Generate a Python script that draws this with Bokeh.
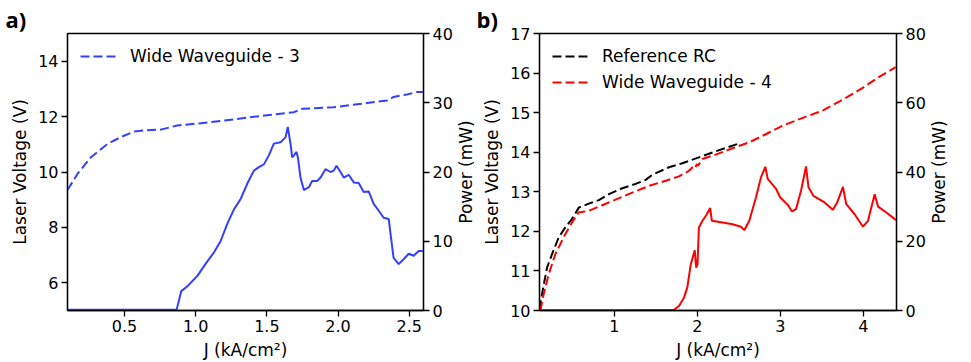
import math
from bokeh.plotting import figure
from bokeh.models import Range1d, LinearAxis, FixedTicker, Legend, LegendItem, NumeralTickFormatter
from bokeh.core.properties import value
from bokeh.layouts import row
from bokeh.embed import file_html
from bokeh.resources import INLINE

# ---------------- Panel a data ----------------
a_v_j = [0.10, 0.17, 0.264, 0.38, 0.474, 0.567, 0.638, 0.755, 0.871, 1.035, 1.269, 1.50, 1.69,
         1.748, 1.97, 2.204, 2.344, 2.39, 2.484, 2.554, 2.596]
a_v = [9.35, 9.93, 10.53, 11.01, 11.26, 11.46, 11.50, 11.53, 11.68, 11.76, 11.90, 12.05, 12.16,
       12.28, 12.34, 12.49, 12.58, 12.71, 12.80, 12.89, 12.89]

a_p_j = [0.10, 0.50, 0.867, 0.878, 0.899, 0.942, 1.012, 1.082, 1.129, 1.175, 1.222, 1.269, 1.316,
         1.362, 1.409, 1.444, 1.479, 1.514, 1.549, 1.596, 1.631, 1.647, 1.666, 1.678, 1.69, 1.708,
         1.718, 1.736, 1.76, 1.795, 1.818, 1.853, 1.877, 1.912, 1.947, 1.97, 1.989, 2.017, 2.04,
         2.075, 2.11, 2.145, 2.18, 2.215, 2.25, 2.286, 2.32, 2.356, 2.372, 2.39, 2.426, 2.46,
         2.496, 2.531, 2.566, 2.596]
a_p = [0.1, 0.1, 0.15, 1.1, 2.8, 3.5, 5.0, 7.1, 8.4, 10.0, 12.5, 14.6, 16.1,
       18.3, 20.2, 20.7, 21.1, 22.4, 24.1, 24.3, 25.0, 26.5, 24.1, 22.1, 22.4, 22.9,
       22.1, 19.2, 17.4, 17.8, 18.7, 18.7, 19.2, 20.4, 20.0, 20.2, 20.9, 20.0, 19.2,
       19.6, 18.5, 18.4, 17.1, 17.2, 15.4, 14.4, 13.4, 13.2, 10.5, 7.6, 6.7, 7.4,
       8.2, 7.9, 8.6, 8.6]

# ---------------- Panel b data ----------------
b_ref_j = [0.098, 0.13, 0.19, 0.25, 0.33, 0.41, 0.49, 0.573, 0.694, 0.815, 0.936, 1.097, 1.258,
           1.379, 1.459, 1.66, 1.82, 2.02, 2.22, 2.486]
b_ref_v = [10.03, 10.41, 11.08, 11.42, 11.84, 12.10, 12.31, 12.60, 12.70, 12.79, 12.94, 13.09, 13.20,
           13.30, 13.43, 13.62, 13.72, 13.87, 14.02, 14.21]

b_ww_j = [0.11, 0.15, 0.21, 0.29, 0.41, 0.49, 0.573, 0.61, 0.694, 0.855, 1.016, 1.217, 1.419,
          1.62, 1.78, 1.90, 1.963, 1.98, 1.995, 2.01, 2.063, 2.224, 2.426, 2.627, 2.83, 3.03,
          3.31, 3.51, 3.755, 3.996, 4.157, 4.39]
b_ww_v = [10.0, 10.41, 10.91, 11.42, 11.93, 12.22, 12.48, 12.49, 12.52, 12.66, 12.80, 12.98, 13.15,
          13.28, 13.39, 13.53, 13.66, 13.62, 13.70, 13.66, 13.83, 13.94, 14.10, 14.25, 14.46, 14.67,
          14.90, 15.05, 15.33, 15.63, 15.86, 16.15]

b_p_j = [0.10, 1.0, 1.72, 1.78, 1.84, 1.88, 1.922, 1.95, 1.97, 1.987, 2.003, 2.02, 2.063, 2.11,
         2.156, 2.176, 2.305, 2.426, 2.526, 2.567, 2.627, 2.708, 2.768, 2.82, 2.849, 2.95, 2.998,
         3.09, 3.143, 3.19, 3.25, 3.31, 3.34, 3.40, 3.533, 3.634, 3.686, 3.755, 3.795, 3.896,
         3.996, 4.057, 4.137, 4.178, 4.278, 4.379, 4.40]
b_p = [0.1, 0.1, 0.2, 1.3, 3.7, 6.6, 13.3, 15.7, 17.4, 12.4, 13.3, 24.0, 25.9, 27.6,
       29.6, 25.9, 25.4, 24.9, 24.2, 23.2, 25.9, 32.7, 38.5, 41.5, 38.0, 35.1, 32.7,
       30.5, 28.6, 29.3, 34.6, 41.6, 35.6, 33.1, 31.2, 29.1, 31.2, 35.7, 30.7, 27.8,
       24.2, 25.9, 33.6, 30.0, 28.3, 26.4, 26.1]

a_xticks = [0.5, 1.0, 1.5, 2.0, 2.5]
a_vticks = [6, 8, 10, 12, 14]
a_pticks = [0, 10, 20, 30, 40]
b_xticks = [1, 2, 3, 4]
b_vticks = [10, 11, 12, 13, 14, 15, 16, 17]
b_pticks = [0, 20, 40, 60, 80]
power_title = "Power (mW)"

FONT = "DejaVu Sans"
TICK_FS = "16px"
LAB_FS = "17px"
BLUE = "#3340ff"
DASH = "9 4"
FRAME_H = 277
TOP = 33
BOTTOM = 50


def style_axis(ax):
    ax.axis_label_text_font = FONT
    ax.axis_label_text_font_size = LAB_FS
    ax.axis_label_text_font_style = "normal"
    ax.axis_label_text_color = "black"
    ax.major_label_text_font = FONT
    ax.major_label_text_font_size = TICK_FS
    ax.major_label_text_color = "black"
    ax.axis_line_color = "black"
    ax.axis_line_width = 1.3
    ax.major_tick_line_color = "black"
    ax.major_tick_line_width = 1.3
    ax.major_tick_out = 6
    ax.major_tick_in = 0
    ax.minor_tick_line_color = None
    ax.major_label_standoff = 3
    ax.axis_label_standoff = 5


def make_fig(title, xr, vr, pr, fw, mbl, mbr, xticks, vticks, pticks, xfmt, title_off):
    p = figure(frame_width=fw, frame_height=FRAME_H, x_range=Range1d(*xr), y_range=Range1d(*vr),
               output_backend="svg", toolbar_location=None,
               min_border_left=mbl, min_border_right=mbr, min_border_top=TOP, min_border_bottom=BOTTOM)
    p.extra_y_ranges = {"power": Range1d(*pr)}
    p.xgrid.visible = False
    p.ygrid.visible = False
    p.outline_line_color = "black"
    p.outline_line_width = 1.3
    p.title.text = title
    p.title.text_font = "Open Sans"
    p.title.text_font_size = "22px"
    p.title.text_font_style = "bold"
    p.title.text_color = "black"
    p.title.align = "left"
    p.title.offset = title_off
    p.title.standoff = 0
    p.xaxis.axis_label = "J (kA/cm²)"
    p.xaxis.ticker = FixedTicker(ticks=xticks)
    p.xaxis.formatter = NumeralTickFormatter(format=xfmt)
    p.yaxis.axis_label = "Laser Voltage (V)"
    p.yaxis.ticker = FixedTicker(ticks=vticks)
    rax = LinearAxis(y_range_name="power", ticker=FixedTicker(ticks=pticks))
    p.add_layout(rax, "right")
    for ax in [p.xaxis[0], p.yaxis[0], rax]:
        style_axis(ax)
    return p


def right_title_strip():
    # narrow strip holding the right-axis title, reading bottom-to-top
    s = figure(frame_width=20, frame_height=FRAME_H, x_range=Range1d(0, 1), y_range=Range1d(0, 1),
               output_backend="svg", toolbar_location=None, x_axis_type=None, y_axis_type=None,
               min_border_left=0, min_border_right=0, min_border_top=TOP, min_border_bottom=BOTTOM)
    s.outline_line_color = None
    s.xgrid.visible = False
    s.ygrid.visible = False
    s.text(x=[0.5], y=[0.5], text=[power_title], angle=math.pi / 2, text_font=value(FONT),
           text_font_size=LAB_FS, text_align="center", text_baseline="middle", text_color="black")
    return s


def style_legend(lg):
    lg.location = "top_left"
    lg.margin = 5
    lg.padding = 8
    lg.spacing = 6
    lg.glyph_width = 36
    lg.glyph_height = 20
    lg.label_height = 20
    lg.label_standoff = 14
    lg.label_text_font = FONT
    lg.label_text_font_size = LAB_FS
    lg.label_text_color = "black"
    lg.border_line_alpha = 0
    lg.background_fill_alpha = 0


pa = make_fig("a)", (0.1, 2.6), (5, 15), (0, 40), 356, 67, 30, a_xticks, a_vticks, a_pticks, "0.0", -62)
la = pa.line(a_v_j, a_v, color=BLUE, line_width=2, line_dash=DASH)
pa.line(a_p_j, a_p, color=BLUE, line_width=2, y_range_name="power")
lga = Legend(items=[LegendItem(label="Wide Waveguide - 3", renderers=[la])])
style_legend(lga)
pa.add_layout(lga, "center")

pb = make_fig("b)", (0.1, 4.4), (10, 17), (0, 80), 357, 64, 30, b_xticks, b_vticks, b_pticks, "0", -63)
lr = pb.line(b_ref_j, b_ref_v, color="black", line_width=2, line_dash=DASH)
lw = pb.line(b_ww_j, b_ww_v, color="red", line_width=2, line_dash=DASH)
pb.line(b_p_j, b_p, color="red", line_width=2, y_range_name="power")
lgb = Legend(items=[LegendItem(label="Reference RC", renderers=[lr]),
                    LegendItem(label="Wide Waveguide - 4", renderers=[lw])])
style_legend(lgb)
pb.add_layout(lgb, "center")

layout = row(pa, right_title_strip(), pb, right_title_strip())
open("out.html", "w").write(file_html(layout, INLINE))
